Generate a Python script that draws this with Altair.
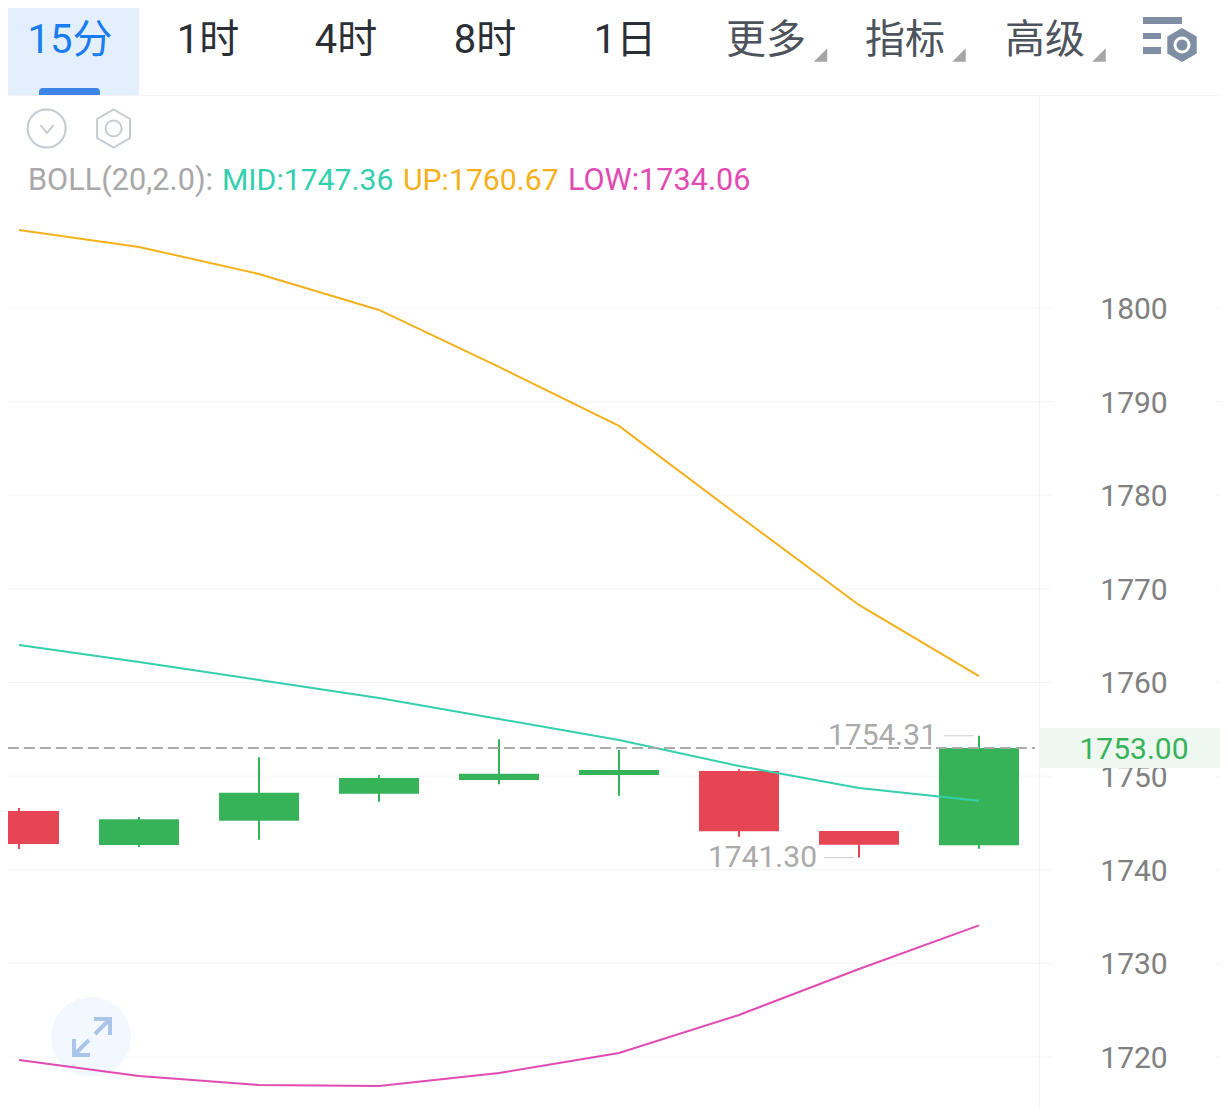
import altair as alt
import pandas as pd

# ---- data ----
opens = [1746.28, 1742.64, 1745.24, 1748.12, 1749.59, 1750.12, 1750.55, 1744.14, 1742.61]
closes = [1742.75, 1745.39, 1748.23, 1749.80, 1750.26, 1750.65, 1744.11, 1742.68, 1753.00]
highs = [1746.60, 1745.63, 1752.01, 1750.12, 1753.93, 1752.79, 1750.73, 1744.14, 1754.31]
lows = [1742.22, 1742.43, 1743.21, 1747.27, 1749.13, 1747.91, 1743.53, 1741.30, 1742.25]
boll_up = [1808.33, 1806.52, 1803.63, 1799.79, 1793.70, 1787.40, 1777.78, 1768.28, 1760.67]
boll_mid = [1764.00, 1762.19, 1760.27, 1758.34, 1756.10, 1753.86, 1751.08, 1748.73, 1747.36]
boll_low = [1719.68, 1717.97, 1717.01, 1716.90, 1718.29, 1720.43, 1724.49, 1729.40, 1734.06]
y_ticks = [1720, 1730, 1740, 1750, 1760, 1770, 1780, 1790, 1800]
last_price = 1753.00
tab_labels = ["15分", "1时", "4时", "8时", "1日", "更多", "指标", "高级"]
tab_colors = ["#1a7cf0", "#2b2f36", "#2b2f36", "#2b2f36", "#2b2f36", "#4d535c", "#4d535c", "#4d535c"]
legend_texts = ["BOLL(20,2.0):", "MID:1747.36", "UP:1760.67", "LOW:1734.06"]

# ---- style ----
W, H = 1212, 1099
GREEN, RED = "#36b358", "#e64553"
C_UP, C_MID, C_LOW = "#f5b01c", "#33cfae", "#e04bb3"
GRID = "#f3f4f8"
FONT = "Roboto, 'Noto Sans CJK SC'"
XS = alt.Scale(domain=[-11 / 120, 1201 / 120], nice=False, zero=False, padding=0)
YS = alt.Scale(domain=[1714.66, 1832.04], nice=False, zero=False, padding=0)
X = alt.X("i:Q", scale=XS, axis=None)

one = pd.DataFrame({"a": [0]})
base = alt.Chart(one)


def px(v):
    return alt.value(v - 8)


def rect(x0, x1, y0, y1, color, **kw):
    return base.mark_rect(color=color, **kw).encode(x=px(x0), x2=px(x1), y=px(y0), y2=px(y1))


def sym(cx, cy, span, shape, **kw):
    return base.mark_point(shape=shape, size=span * span, opacity=1, **kw).encode(x=px(cx), y=px(cy))


def text(s, x, y, color, size=30, align="left", weight=400):
    return base.mark_text(
        text=s, font=FONT, fontSize=size, fontWeight=weight, color=color, align=align, baseline="alphabetic"
    ).encode(x=px(x), y=px(y))


HEX = "M0,-1L0.866,-0.5L0.866,0.5L0,1L-0.866,0.5L-0.866,-0.5Z"
TRI = "M1,-1L1,1L-1,1Z"
CHEV = "M-1,-0.6L0,0.6L1,-0.6"
EXPAND = (
    "M0.15,-0.15L0.9,-0.9M0.1,-0.9L0.9,-0.9L0.9,-0.1"
    "M-0.15,0.15L-0.9,0.9M-0.9,0.1L-0.9,0.9L-0.1,0.9"
)

layers = []

# grid and price-scale labels
grid_df = pd.DataFrame({"v": y_ticks})
grid_df["t"] = [str(v) for v in y_ticks]
layers.append(
    alt.Chart(grid_df)
    .mark_rule(color=GRID, strokeWidth=1)
    .encode(y=alt.Y("v:Q", scale=YS, axis=None), x=px(8), x2=px(1052))
)
layers.append(
    alt.Chart(grid_df)
    .mark_rule(color=GRID, strokeWidth=1)
    .encode(y=alt.Y("v:Q", scale=YS, axis=None), x=px(1215), x2=px(1220))
)
layers.append(
    alt.Chart(grid_df)
    .mark_text(font=FONT, fontSize=30, fontWeight=400, color="#808080", align="center", baseline="middle", dy=2)
    .encode(y=alt.Y("v:Q", scale=YS, axis=None), x=px(1134), text="t:N")
)

# chrome: frame lines, expand button
layers += [
    rect(8, 1220, 95, 96, "#f2f3f5"),
    rect(1039, 1040, 96, 1107, "#f2f3f5"),
    sym(91, 1037, 80, "circle", filled=True, color="#f3f8fe"),
]

# candles
df = pd.DataFrame(
    {
        "i": list(range(len(opens))),
        "o": opens,
        "c": closes,
        "h": highs,
        "l": lows,
    }
)
df["dir"] = ["up" if c >= o else "down" for o, c in zip(opens, closes)]
col = alt.Color("dir:N", scale=alt.Scale(domain=["up", "down"], range=[GREEN, RED]), legend=None)
layers.append(
    alt.Chart(df)
    .mark_rule(strokeWidth=2, clip=True)
    .encode(x=X, y=alt.Y("h:Q", scale=YS, axis=None), y2="l:Q", color=col)
)
layers.append(
    alt.Chart(df)
    .mark_bar(size=80, clip=True)
    .encode(x=X, y=alt.Y("o:Q", scale=YS, axis=None), y2="c:Q", color=col)
)

# Bollinger lines
for vals, c in [(boll_up, C_UP), (boll_mid, C_MID), (boll_low, C_LOW)]:
    ldf = pd.DataFrame({"i": list(range(len(vals))), "v": vals})
    layers.append(
        alt.Chart(ldf)
        .mark_line(color=c, strokeWidth=2)
        .encode(x=X, y=alt.Y("v:Q", scale=YS, axis=None))
    )

# last price band, label and dashed line
price_df = pd.DataFrame({"v": [last_price], "t": [f"{last_price:.2f}"]})
layers.append(rect(1040, 1220, 728, 768, "#eef8f1"))
layers.append(
    alt.Chart(price_df)
    .mark_text(font=FONT, fontSize=30, fontWeight=400, color=GREEN, align="center", baseline="middle", dy=2)
    .encode(y=alt.Y("v:Q", scale=YS, axis=None), x=px(1134), text="t:N")
)
layers.append(
    alt.Chart(price_df)
    .mark_rule(color="#aaaaaa", strokeWidth=2, strokeDash=[11, 5])
    .encode(y=alt.Y("v:Q", scale=YS, axis=None), x=px(8), x2=px(1035))
)

# high / low annotations
hi_i = highs.index(max(highs))
lo_i = lows.index(min(lows))
ann = pd.DataFrame(
    {
        "i": [hi_i, lo_i],
        "v": [highs[hi_i], lows[lo_i]],
        "t": [f"{highs[hi_i]:.2f}", f"{lows[lo_i]:.2f}"],
    }
)
layers.append(
    alt.Chart(ann)
    .mark_text(font=FONT, fontSize=30, fontWeight=400, color="#aaaaaa", align="right", baseline="middle", dx=-42)
    .encode(x=X, y=alt.Y("v:Q", scale=YS, axis=None), text="t:N")
)
layers.append(
    alt.Chart(ann)
    .mark_tick(color="#b8b8b8", orient="horizontal", size=30, thickness=1, xOffset=-20)
    .encode(x=X, y=alt.Y("v:Q", scale=YS, axis=None))
)

# toolbar
tab_x = [70, 208, 346, 485, 625, 766, 905, 1045]
layers.append(rect(8, 139, 8, 95, "#e3effd"))
layers.append(rect(39, 100, 88, 95, "#3d86e6", cornerRadiusTopLeft=6, cornerRadiusTopRight=6))
for s, x, c in zip(tab_labels, tab_x, tab_colors):
    layers.append(text(s, x, 53, c, size=40, align="center", weight=400))
for x in [820.5, 959, 1099]:
    layers.append(sym(x, 55, 13.5, TRI, filled=True, color="#a6a6a6", strokeWidth=0))

# settings icon
ICON = "#7f8ea3"
layers += [
    rect(1143, 1182, 17, 24, ICON),
    rect(1143, 1161, 33, 39, ICON),
    rect(1143, 1161, 47, 54, ICON),
    sym(1182, 45, 34, HEX, filled=True, color=ICON, strokeWidth=0),
    sym(1182, 45, 14, "circle", filled=False, color="#ffffff", strokeWidth=3),
]

# small icons
ICON2 = "#c5cbd3"
layers += [
    sym(46.6, 128.5, 38, "circle", filled=False, color=ICON2, strokeWidth=2),
    sym(47, 129, 13, CHEV, filled=False, color=ICON2, strokeWidth=2),
    sym(113.6, 128.5, 38, HEX, filled=False, color=ICON2, strokeWidth=2),
    sym(113.6, 128.5, 16, "circle", filled=False, color=ICON2, strokeWidth=2),
    sym(92, 1037, 40, EXPAND, filled=False, color="#a9c6ea", strokeWidth=4),
]

# legend
for s, x, c, fs in zip(legend_texts, [28, 222, 403, 568], ["#a8a8a8", C_MID, C_UP, C_LOW], [30.7, 30.2, 30.2, 30.6]):
    layers.append(text(s, x, 190, c, size=fs))

chart = (
    alt.layer(*layers)
    .properties(width=W, height=H, padding=0, autosize=alt.AutoSizeParams(type="none"), background="#ffffff")
    .configure_view(strokeWidth=0)
)
chart.save("out.html", embed_options={"renderer": "svg", "actions": False})
